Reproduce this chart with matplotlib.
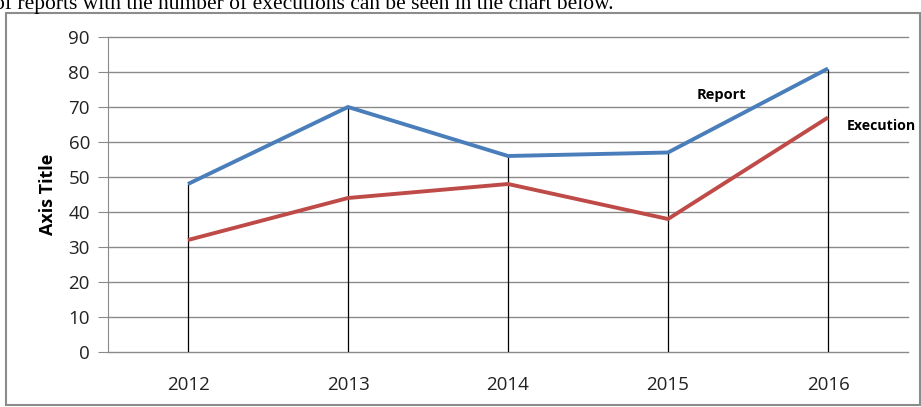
import matplotlib
matplotlib.use("Agg")
import matplotlib.pyplot as plt
from matplotlib.patches import Rectangle

years = ["2012", "2013", "2014", "2015", "2016"]
report = [48, 70, 56, 57, 81]
execution = [32, 44, 48, 38, 67]
yticks = [0, 10, 20, 30, 40, 50, 60, 70, 80, 90]

fig = plt.figure(figsize=(9.21, 4.07), dpi=100)
fig.patch.set_facecolor("white")

# chart frame
fig.patches.append(Rectangle((6 / 921, 2 / 407), 914 / 921, 392 / 407,
                             transform=fig.transFigure, fill=False,
                             edgecolor="#8c8c8c", linewidth=1.5))

# cut-off document text at top
fig.text(-0.006, 1 - 9 / 407, "of reports with the number of executions can be seen in the chart below.",
         family="Liberation Serif", fontsize=15.5, va="baseline", ha="left", color="black")

ax = fig.add_axes([108 / 921, 1 - 352 / 407, 800 / 921, 315 / 407])
x = list(range(len(years)))

ax.set_xlim(-0.5, 4.5)
ax.set_ylim(0, 90)
ax.set_yticks(yticks)
ax.set_xticks(x)
ax.set_xticklabels(years)

for v in yticks:
    ax.axhline(v, color="#8a8a8a", linewidth=1.0, zorder=1, clip_on=False)

tops = [max(a, b) for a, b in zip(report, execution)]
ax.vlines(x, 0, tops, color="black", linewidth=0.9, zorder=2)

ax.plot(x, report, color="#4a7ebb", linewidth=2.8, zorder=3, solid_capstyle="butt")
ax.plot(x, execution, color="#be4b48", linewidth=2.8, zorder=3, solid_capstyle="butt")

ax.text(3.18, 73.5, "Report", family="Open Sans", fontweight="bold", fontsize=10.5, ha="left", va="center")
ax.text(4.12, 64.5, "Execution", family="Open Sans", fontweight="bold", fontsize=10.2, ha="left", va="center")

for s in ["top", "right", "bottom"]:
    ax.spines[s].set_visible(False)
ax.spines["left"].set_color("#8a8a8a")
ax.tick_params(axis="y", length=7, color="#8a8a8a", labelsize=13.5, pad=6, labelcolor="#222222")
ax.tick_params(axis="x", length=0, labelsize=13.5, pad=17, labelcolor="#222222")
for lab in ax.get_xticklabels() + ax.get_yticklabels():
    lab.set_family("Open Sans")

ax.set_ylabel("Axis Title", family="Open Sans", fontweight="bold", fontsize=13, labelpad=8)

fig.savefig("out.png", dpi=100)
